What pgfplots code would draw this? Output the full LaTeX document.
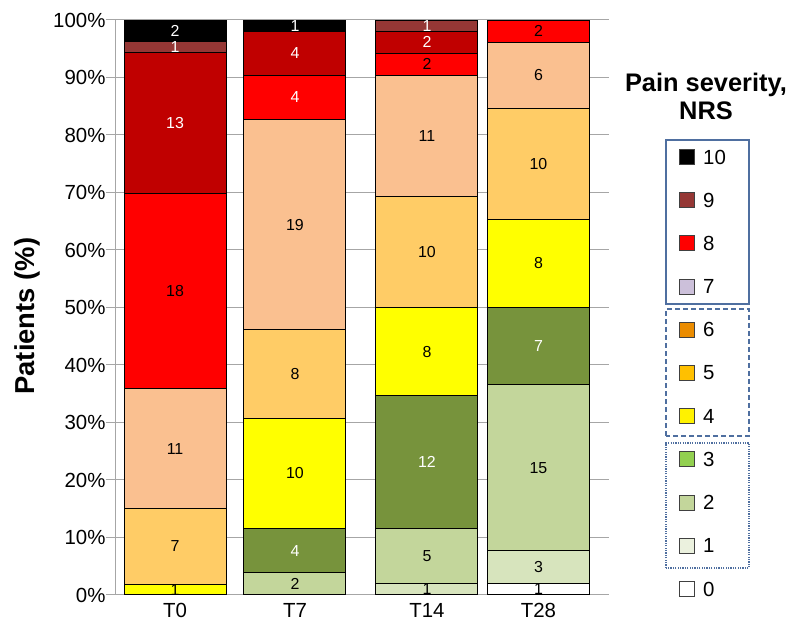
\documentclass[border=0pt]{standalone}
\usepackage{pgfplots}
\usepackage{pgfplotstable}
\pgfplotsset{compat=1.18}
\usepackage{fontspec}
\setmainfont{Liberation Sans}

% bar colours (bottom to top)
\definecolor{b0}{RGB}{255,255,255}
\definecolor{b1}{RGB}{215,228,189}
\definecolor{b2}{RGB}{195,214,155}
\definecolor{b3}{RGB}{119,147,60}
\definecolor{b4}{RGB}{255,255,0}
\definecolor{b5}{RGB}{255,204,102}
\definecolor{b6}{RGB}{250,192,144}
\definecolor{b7}{RGB}{255,0,0}
\definecolor{b8}{RGB}{192,0,0}
\definecolor{b9}{RGB}{149,55,53}
\definecolor{b10}{RGB}{0,0,0}
% legend colours
\definecolor{l9}{RGB}{149,55,53}
\definecolor{l7}{RGB}{204,192,218}
\definecolor{l6}{RGB}{235,140,0}
\definecolor{l5}{RGB}{255,192,0}
\definecolor{l3}{RGB}{146,208,80}
\definecolor{l2}{RGB}{195,214,155}
\definecolor{l1}{RGB}{235,241,222}
\definecolor{axgray}{RGB}{166,166,166}
\definecolor{legblue}{RGB}{79,111,160}

% patient counts per NRS score; x = bar position, w7 = white label on score 7
\pgfplotstableread{
x      n0 n1 n2 n3 n4 n5 n6 n7 n8 n9 n10 tot w7
-0.014 0  0  0  0  1  7  11 18 13 1  2   53  0
0.957  0  0  2  4  10 8  19 4  4  0  1   52  1
2.026  0  1  5  12 8  10 11 2  2  1  0   52  0
2.929  1  3  15 7  8  10 6  2  0  0  0   52  0
}\counts

\newcommand{\seg}[2]{%
  \addplot[fill=#2, draw=black, line width=1bp]
    table[x=x, y expr=\thisrow{#1}/\thisrow{tot}*100] {\counts};
}
% label in the middle of a segment: column, sum of the columns below, text colour
\newcommand{\lbl}[3]{%
  \addplot[draw=none, mark=none,
    visualization depends on={\thisrow{#1}\as\cnt},
    nodes near coords style={text=#3}]
    table[x=x, y expr=(#2+\thisrow{#1}/2)/\thisrow{tot}*100] {\counts};
}
\newcommand{\rw}[1]{\thisrow{n#1}}

\pgfplotsset{base/.style={
  at={(115bp,27bp)}, anchor=south west,
  width=494bp, height=575bp, scale only axis,
  xmin=-0.5, xmax=3.5, ymin=0, ymax=100}}

\begin{document}
\begin{tikzpicture}
\useasboundingbox (0,0) rectangle (792bp,622bp);
\begin{axis}[base,
  ybar stacked, bar width=0.826,
  axis x line*=bottom, axis y line*=left,
  axis line style={axgray, line width=1bp},
  every tick/.style={axgray, line width=1bp},
  tick align=outside,
  ytick={0,10,...,100},
  ymajorgrids, grid style={axgray, line width=1bp},
  major tick length=9bp,
  xtick={-0.014,0.957,2.026,2.929},
  xticklabels={T0,T7,T14,T28},
  x tick style={draw=none},
  extra x ticks={-0.5,0.5,1.5,2.5,3.5},
  extra x tick labels={},
  extra x tick style={grid=none, major tick length=8bp,
    tick style={draw=axgray, line width=1bp}},
  /pgf/number format/assume math mode=true,
  yticklabel={\pgfmathprintnumber{\tick}\%},
  ticklabel style={font=\fontsize{20.5}{24}\selectfont},
  yticklabel style={xshift=3bp},
  xticklabel style={inner sep=1bp, yshift=1.5bp},
  ylabel={Patients (\%)},
  ylabel style={font=\bfseries\fontsize{27.5}{30}\selectfont,
    at={(axis description cs:-0.178,0.485)}, anchor=center},
]
\seg{n0}{b0}
\seg{n1}{b1}
\seg{n2}{b2}
\seg{n3}{b3}
\seg{n4}{b4}
\seg{n5}{b5}
\seg{n6}{b6}
\seg{n7}{b7}
\seg{n8}{b8}
\seg{n9}{b9}
\seg{n10}{b10}
\end{axis}

% segment counts
\begin{axis}[base, hide axis,
  /pgf/number format/assume math mode=true,
  nodes near coords={\ifdim\cnt pt>0.5pt\pgfmathprintnumber[fixed,precision=0]{\cnt}\fi},
  nodes near coords style={font=\fontsize{16}{18}\selectfont, anchor=center, inner sep=0pt},
]
\lbl{n0}{0}{black}
\lbl{n1}{\rw0}{black}
\lbl{n2}{\rw0+\rw1}{black}
\lbl{n3}{\rw0+\rw1+\rw2}{white}
\lbl{n4}{\rw0+\rw1+\rw2+\rw3}{black}
\lbl{n5}{\rw0+\rw1+\rw2+\rw3+\rw4}{black}
\lbl{n6}{\rw0+\rw1+\rw2+\rw3+\rw4+\rw5}{black}
\addplot[draw=none, mark=none,
  visualization depends on={\thisrow{n7}\as\cnt},
  visualization depends on={\thisrow{w7}\as\wh},
  nodes near coords={\ifdim\wh pt>0.5pt\color{white}\fi\pgfmathprintnumber[fixed,precision=0]{\cnt}}]
  table[x=x, y expr=(\rw0+\rw1+\rw2+\rw3+\rw4+\rw5+\rw6+\rw7/2)/\thisrow{tot}*100] {\counts};
\lbl{n8}{\rw0+\rw1+\rw2+\rw3+\rw4+\rw5+\rw6+\rw7}{white}
\lbl{n9}{\rw0+\rw1+\rw2+\rw3+\rw4+\rw5+\rw6+\rw7+\rw8}{white}
\lbl{n10}{\rw0+\rw1+\rw2+\rw3+\rw4+\rw5+\rw6+\rw7+\rw8+\rw9}{white}
\end{axis}

% legend
\node[font=\bfseries\fontsize{25.5}{30}\selectfont, anchor=base] at (706bp,530bp) {Pain severity,};
\node[font=\bfseries\fontsize{25.5}{30}\selectfont, anchor=base] at (706bp,502bp) {NRS};
\draw[legblue, line width=1.3bp] (666bp,318bp) rectangle (749bp,482bp);
\draw[legblue, line width=1.3bp, dash pattern=on 5bp off 3bp] (666bp,186bp) rectangle (749bp,313bp);
\draw[legblue, line width=1.1bp, dash pattern=on 1.2bp off 1.2bp] (666bp,54bp) rectangle (749bp,179bp);
\foreach \lab/\col [count=\i from 0] in {10/black,9/l9,8/red,7/l7,6/l6,5/l5,4/yellow,3/l3,2/l2,1/l1,0/white} {
  \pgfmathsetmacro\yy{622-157-43.2*\i}
  \pgfmathsetmacro\yb{\yy-7.5}
  \draw[fill=\col, draw=black!75, line width=1bp] (679bp,\yb bp) rectangle ++(15bp,15bp);
  \node[anchor=west, inner sep=0pt, font=\fontsize{20.5}{24}\selectfont] at (703bp,\yy bp) {\lab};
}
\end{tikzpicture}
\end{document}
